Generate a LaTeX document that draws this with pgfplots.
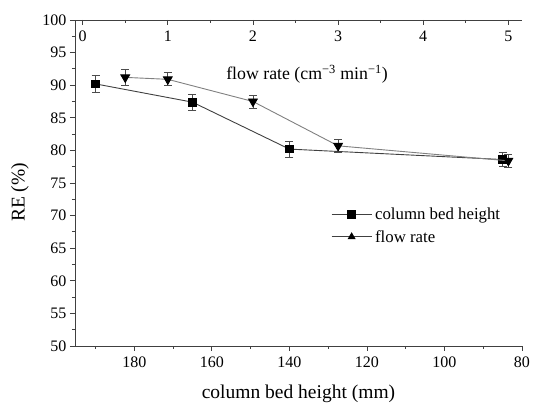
\documentclass[border=0pt]{standalone}
\usepackage{fontspec}
\setmainfont{Liberation Serif}
\usepackage{pgfplots}
\pgfplotsset{compat=1.18}
\newcommand\fs[1]{\fontsize{#1}{#1}\selectfont}
\begin{document}
\begin{tikzpicture}
\useasboundingbox (-75pt,-58pt) rectangle (458pt,346pt);
\begin{axis}[
  at={(0pt,0pt)}, anchor=south west,
  scale only axis, width=447pt, height=326pt,
  x dir=reverse, xmin=80, xmax=195.3, ymin=50, ymax=100,
  axis x line*=bottom, axis y line*=left,
  axis line style={color=black!75, line width=0.9pt},
  tick align=outside,
  xtick={80,100,...,180}, minor xtick={90,110,...,190},
  ytick={50,55,...,100}, minor ytick={52.5,57.5,...,97.5},
  major tick length=5pt, minor tick length=3pt,
  tick style={black!75, line width=0.8pt},
  tick label style={font=\fs{16}},
  xticklabel style={yshift=-2pt},
  xlabel={column bed height (mm)}, ylabel={RE (\%)},
  xlabel style={font=\fs{19.5}, at={(axis description cs:0.5,0)}, anchor=base, yshift=-53pt},
  ylabel style={font=\fs{19.5}, at={(axis description cs:-0.123,0.471)}, anchor=center},
  /pgf/number format/assume math mode=true,
  legend style={at={(axis description cs:0.566,0.436)}, anchor=north west, draw=none, fill=none, font=\fs{16.8}, row sep=5pt, nodes={inner xsep=3pt}},
  legend cell align=left,
  legend image code/.code={\draw[mark repeat=2,mark phase=2,#1] plot coordinates {(0pt,0pt) (20pt,0pt) (40pt,0pt)};},
]
\addplot[black!75, line width=0.9pt, mark=square*, mark size=3.8pt, mark options={solid, fill=black, draw=black},
  error bars/.cd, y dir=both, y explicit, error bar style={black!70, line width=0.7pt},
  error mark options={rotate=90, mark size=4pt, black!70, line width=0.7pt}]
  coordinates {(190,90.2) +- (0,1.25) (165,87.4) +- (0,1.25) (140,80.2) +- (0,1.2) (85,78.6) +- (0,1.1)};
\addlegendentry{column bed height}
\addlegendimage{black!75, line width=0.9pt, mark=triangle*, mark size=3.8pt, mark options={solid, fill=black, draw=black}}
\addlegendentry{flow rate}
\end{axis}
\begin{axis}[
  at={(0pt,0pt)}, anchor=south west,
  scale only axis, width=447pt, height=326pt,
  xmin=-0.09, xmax=5.16, ymin=50, ymax=100,
  axis x line*=top, axis y line=none,
  axis line style={color=black!75, line width=0.9pt},
  tick align=inside,
  xtick={0,1,...,5}, minor xtick={0.5,1.5,...,4.5},
  major tick length=5pt, minor tick length=3pt,
  tick style={black!75, line width=0.8pt},
  xticklabel style={anchor=north, yshift=-7pt, font=\fs{16}},
  /pgf/number format/assume math mode=true,
  xlabel={flow rate (cm\textsuperscript{−3} min\textsuperscript{−1})},
  xlabel style={font=\fs{17.8}, at={(axis description cs:0.519,0.834)}, anchor=center},
]
\addplot[black!50, line width=0.9pt, mark=triangle*, mark size=5pt, mark options={solid, fill=black, draw=black, rotate=180},
  error bars/.cd, y dir=both, y explicit, error bar style={black!70, line width=0.7pt},
  error mark options={rotate=90, mark size=4pt, black!70, line width=0.7pt}]
  coordinates {(0.5,91.2) +- (0,1.2) (1,90.9) +- (0,1.0) (2,87.5) +- (0,1.0) (3,80.7) +- (0,1.0) (5,78.4) +- (0,1.0)};
\end{axis}
\end{tikzpicture}
\end{document}
